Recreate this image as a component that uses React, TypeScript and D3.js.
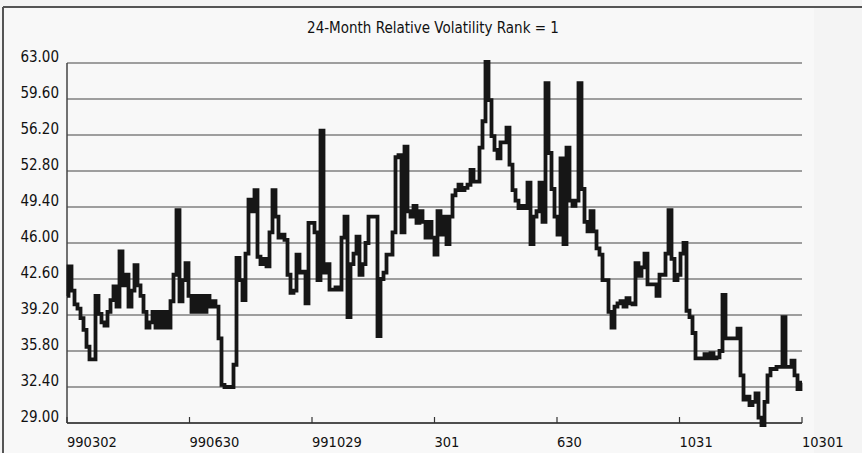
import React from "react";
import * as d3 from "d3";

const title = "24-Month Relative Volatility Rank = 1";
const yTicks = [29.0, 32.4, 35.8, 39.2, 42.6, 46.0, 49.4, 52.8, 56.2, 59.6, 63.0];
const xTickLabels = ["990302", "990630", "991029", "301", "630", "1031", "10301"];

// volatility series, equally spaced observations
const values = [
  41.0, 43.8, 41.5, 40.2, 39.8, 38.9, 37.8, 36.2, 35.0, 35.0,
  41.0, 39.3, 38.5, 38.2, 39.5, 40.6, 41.9, 40.0, 45.2, 42.0,
  43.0, 40.0, 41.5, 43.9, 42.0, 41.0, 39.5, 38.0, 38.5, 39.5,
  38.0, 39.5, 38.0, 39.5, 38.0, 40.5, 43.0, 49.1, 40.5, 42.5,
  44.1, 41.0, 39.5, 41.0, 39.5, 41.0, 39.5, 41.0, 40.0, 40.5,
  40.0, 37.0, 32.6, 32.4, 32.4, 32.4, 34.5, 44.6, 42.5, 40.6,
  45.0, 50.1, 49.0, 51.0, 44.7, 44.0, 44.5, 43.8, 47.0, 51.0,
  48.5, 46.5, 46.8, 46.3, 43.0, 41.3, 41.5, 44.9, 43.2, 43.3,
  40.3, 47.9, 47.9, 47.0, 42.5, 56.6, 43.2, 44.0, 41.6, 41.6,
  41.8, 41.6, 46.5, 48.5, 39.0, 44.0, 45.0, 46.6, 43.0, 44.0,
  46.0, 48.5, 48.5, 48.5, 37.2, 42.6, 43.2, 44.9, 44.9, 47.0,
  54.1, 54.3, 47.0, 55.1, 49.0, 48.5, 49.5, 47.9, 49.0, 48.0,
  46.5, 48.0, 46.5, 44.9, 49.0, 46.8, 48.5, 45.9, 48.5, 50.5,
  51.0, 51.5, 51.0, 51.2, 51.5, 52.9, 51.8, 51.8, 55.0, 57.5,
  63.1, 59.5, 56.1, 54.8, 54.0, 55.5, 55.5, 56.9, 53.4, 51.0,
  50.0, 49.3, 49.5, 49.3, 51.7, 45.9, 48.5, 49.0, 51.7, 48.0,
  61.1, 54.5, 51.1, 48.5, 46.8, 54.0, 45.9, 55.0, 50.0, 49.5,
  50.0, 61.1, 51.1, 48.0, 47.1, 49.0, 47.1, 45.5, 44.9, 42.5,
  42.5, 39.5, 38.0, 40.0, 40.3, 40.5, 40.0, 40.8, 40.3, 40.2,
  44.1, 42.9, 43.7, 45.0, 42.1, 42.1, 42.1, 41.0, 43.0, 43.0,
  45.0, 49.1, 44.5, 42.5, 43.0, 45.0, 46.0, 39.6, 39.0, 37.5,
  35.1, 35.1, 35.1, 35.5, 35.1, 35.6, 35.1, 35.2, 35.8, 41.1,
  37.0, 37.0, 37.0, 37.0, 37.9, 33.5, 31.2, 31.5, 30.7, 31.0,
  31.8, 29.5, 28.8, 31.0, 33.5, 34.1, 34.1, 34.3, 34.3, 39.0,
  34.3, 34.3, 34.9, 33.5, 32.2, 32.8,
];

const W = 862;
const H = 453;
const plot = { left: 67, right: 802, top: 63, bottom: 423 };
const font = "'Liberation Sans Narrow', 'DejaVu Sans Condensed', 'Arial Narrow', sans-serif";

export default function App() {
  const x = d3.scaleLinear().domain([0, values.length - 1]).range([plot.left, plot.right]);
  const y = d3.scaleLinear().domain([29, 63]).range([plot.bottom, plot.top]);
  const xt = d3.scalePoint<string>().domain(xTickLabels).range([plot.left, plot.right]);
  const line = d3
    .line<number>()
    .x((_, i) => x(i))
    .y((d) => y(d))
    .curve(d3.curveStep);

  return (
    <svg
      width={W}
      height={H}
      style={{ position: "absolute", left: 0, top: 0, display: "block" }}
      fontFamily={font}
    >
      <rect x={0} y={0} width={W} height={H} fill="#f4f4f4" />
      <rect x={4} y={8} width={810} height={H - 8} fill="#f8f8f8" />
      <line x1={3} x2={W} y1={7} y2={7} stroke="#555" strokeWidth={2} />
      <line x1={3} x2={3} y1={7} y2={H} stroke="#555" strokeWidth={2} />
      <text x={433} y={33} textAnchor="middle" fontSize={15} fill="#111">
        {title}
      </text>
      {yTicks.map((t) => (
        <g key={t}>
          <line
            x1={plot.left}
            x2={plot.right}
            y1={y(t)}
            y2={y(t)}
            stroke="#444"
            strokeWidth={1.2}
          />
          <text x={59} y={y(t) - 1} textAnchor="end" fontSize={15} fill="#111">
            {t.toFixed(2)}
          </text>
        </g>
      ))}
      <line x1={plot.left} x2={plot.left} y1={plot.top} y2={plot.bottom} stroke="#444" strokeWidth={1.5} />
      <line x1={plot.left} x2={plot.right} y1={plot.bottom} y2={plot.bottom} stroke="#333" strokeWidth={1.5} />
      {xTickLabels.map((l) => (
        <g key={l}>
          <line
            x1={xt(l)!}
            x2={xt(l)!}
            y1={plot.bottom}
            y2={plot.bottom - 6}
            stroke="#333"
            strokeWidth={1.2}
          />
          <text x={xt(l)!} y={447} textAnchor="start" fontSize={14.5} fill="#111">
            {l}
          </text>
        </g>
      ))}
      <path
        d={line(values) || ""}
        fill="none"
        stroke="#161616"
        strokeWidth={3.8}
        strokeLinejoin="miter"
        strokeLinecap="butt"
      />
    </svg>
  );
}
